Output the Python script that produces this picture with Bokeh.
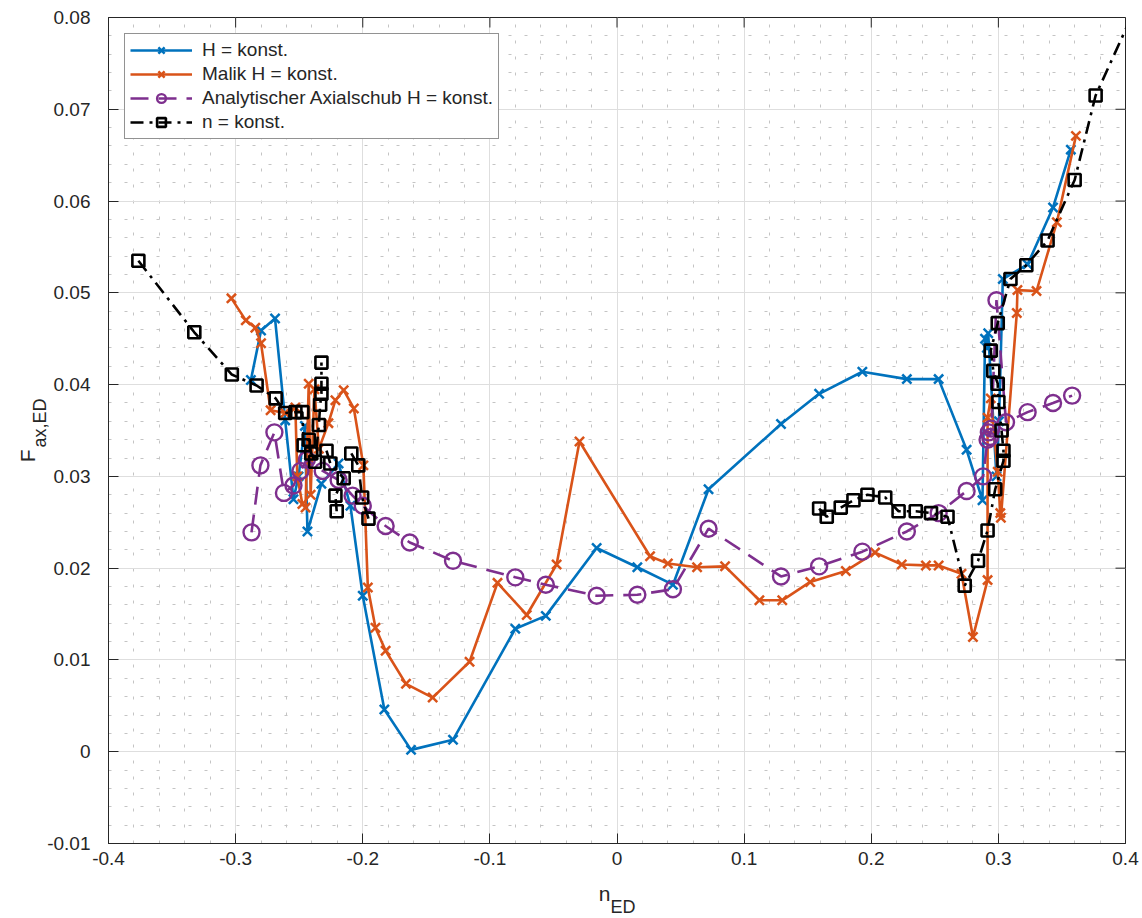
import math
import numpy as np
from bokeh.plotting import figure
from bokeh.models import Range1d, FixedTicker, Label, Legend, LegendItem
from bokeh.embed import file_html
from bokeh.resources import INLINE

nan = float("nan")

# ---------------- data ----------------
h_x = [-0.288, -0.280, -0.269, -0.261, -0.2545, -0.2505, -0.2455, -0.2435, -0.2325, -0.219,
       -0.2097, -0.200, -0.183, -0.162, -0.129, -0.080, -0.056, -0.016, 0.016, 0.044,
       0.072, 0.129, 0.159, 0.193, 0.228, 0.253, 0.275, 0.2875, 0.2895, 0.291,
       0.292, 0.2985, 0.3005, 0.3035, 0.323, 0.343, 0.357]
h_y = [0.0405, 0.0459, 0.0472, 0.0361, 0.0275, 0.0300, 0.0355, 0.0240, 0.0292, 0.0314,
       0.0268, 0.0170, 0.0046, 0.0002, 0.0013, 0.0134, 0.0148, 0.0222, 0.0201, 0.0182,
       0.0286, 0.0357, 0.0390, 0.0414, 0.0406, 0.0406, 0.0329, 0.0274, 0.0450, 0.0440,
       0.0456, 0.0300, 0.0360, 0.0515, 0.0531, 0.0593, 0.0656]

malik_x = [-0.3033, -0.292, -0.2845, -0.280, -0.2725, -0.261, -0.253, -0.2515, -0.2475, -0.245,
           -0.2425, -0.241, -0.238, -0.2345, -0.227, -0.2215, -0.215, -0.207, -0.1995, -0.196,
           -0.190, -0.182, -0.166, -0.145, -0.116, -0.094, -0.071, -0.0475, -0.0295, 0.026,
           0.040, 0.063, 0.085, 0.112, 0.130, 0.152, 0.180, 0.203, 0.224, 0.243,
           0.253, 0.271, 0.280, 0.2915, 0.2915, 0.294, 0.2995, 0.3015, 0.302, 0.3145,
           0.315, 0.330, 0.346, 0.361]
malik_y = [0.0494, 0.0470, 0.0462, 0.0445, 0.0372, 0.0369, 0.0375, 0.0300, 0.0270, 0.0266,
           0.0401, 0.0280, 0.0395, 0.0330, 0.0358, 0.0383, 0.0394, 0.0374, 0.0312, 0.0179,
           0.0135, 0.0110, 0.0074, 0.0059, 0.0098, 0.0184, 0.0149, 0.0204, 0.0338, 0.0213,
           0.0205, 0.0201, 0.0202, 0.0165, 0.0165, 0.0185, 0.0197, 0.0217, 0.0204, 0.0203,
           0.0203, 0.0194, 0.0125, 0.0187, 0.0364, 0.0385, 0.0305, 0.0260, 0.0255, 0.0478,
           0.0503, 0.0502, 0.0577, 0.0671]

ana_x = [-0.2875, -0.2805, -0.2695, -0.262, -0.2545, -0.249, -0.244, -0.2315, -0.219, -0.208,
         -0.200, -0.182, -0.163, -0.129, -0.080, -0.056, -0.016, 0.016, 0.044, 0.072,
         0.129, 0.159, 0.193, 0.228, 0.253, 0.275, 0.288, 0.2915, 0.2925, 0.2935,
         0.2945, 0.2985, 0.306, 0.323, 0.343, 0.358]
ana_y = [0.0239, 0.0312, 0.0348, 0.0282, 0.0290, 0.0306, 0.0318, 0.0306, 0.0296, 0.0279,
         0.0268, 0.0246, 0.0228, 0.0208, 0.0190, 0.0182, 0.0170, 0.0171, 0.0177, 0.0243,
         0.0191, 0.0202, 0.0218, 0.0240, 0.0260, 0.0284, 0.0300, 0.0340, 0.0348, 0.0343,
         0.0352, 0.0492, 0.0359, 0.0370, 0.0380, 0.0388]

n_x = [-0.3765, -0.3325, -0.303, -0.2835, -0.2685, -0.261, -0.253, -0.2475, -0.2465, -0.2425,
       -0.2405, -0.2375, -0.2345, -0.2335, -0.2325, -0.2325, -0.2325, nan, -0.2285, -0.2255,
       -0.215, -0.2215, -0.2205, nan, -0.209, -0.2035, -0.2005, -0.1955, nan, 0.159,
       0.165, 0.176, 0.186, 0.197, 0.211, 0.2215, 0.235, 0.247, 0.260, 0.2735,
       0.284, 0.2915, 0.2975, 0.304, 0.304, 0.3025, 0.300, 0.2995, 0.296, 0.294,
       0.2995, 0.3095, 0.322, 0.3387, 0.360, 0.3765, 0.410]
n_y = [0.0535, 0.0457, 0.0411, 0.0399, 0.0385, 0.0369, 0.0370, 0.0370, 0.0334, 0.0340,
       0.0325, 0.0316, 0.0356, 0.0378, 0.0390, 0.0401, 0.0424, nan, 0.0328, 0.0314,
       0.0298, 0.0279, 0.0262, nan, 0.0325, 0.0312, 0.0277, 0.0254, nan, 0.0265,
       0.0256, 0.0266, 0.0274, 0.0280, 0.0277, 0.0262, 0.0262, 0.0260, 0.0256, 0.0181,
       0.0208, 0.0241, 0.0286, 0.0317, 0.0328, 0.0350, 0.0381, 0.0401, 0.0415, 0.0437,
       0.0467, 0.0515, 0.0530, 0.0557, 0.0623, 0.0715, 0.0817]

x_ticks = [-0.4, -0.3, -0.2, -0.1, 0, 0.1, 0.2, 0.3, 0.4]
x_tick_labels = ["-0.4", "-0.3", "-0.2", "-0.1", "0", "0.1", "0.2", "0.3", "0.4"]
y_ticks = [-0.01, 0, 0.01, 0.02, 0.03, 0.04, 0.05, 0.06, 0.07, 0.08]
y_tick_labels = ["-0.01", "0", "0.01", "0.02", "0.03", "0.04", "0.05", "0.06", "0.07", "0.08"]

series_labels = ["H = konst.", "Malik H = konst.", "Analytischer Axialschub H = konst.", "n = konst."]

# ---------------- figure ----------------
FONT = "Liberation Sans"
AX = "#262626"
XMIN, XMAX, YMIN, YMAX = -0.4, 0.4, -0.01, 0.08
FW, FH = 1017, 826
L, T = 108, 17

p = figure(frame_width=FW, frame_height=FH, output_backend="svg", toolbar_location=None,
           x_range=Range1d(XMIN, XMAX), y_range=Range1d(YMIN, YMAX),
           min_border_left=L, min_border_right=17, min_border_top=T, min_border_bottom=75)
p.background_fill_color = "white"
p.border_fill_color = "white"
p.outline_line_color = AX
p.outline_line_width = 1

x_minor = [round(v, 4) for v in np.arange(-0.4, 0.4001, 0.02)]
y_minor = [round(v, 4) for v in np.arange(-0.01, 0.08001, 0.002)]
xt = FixedTicker(ticks=x_ticks, minor_ticks=x_minor)
yt = FixedTicker(ticks=y_ticks, minor_ticks=y_minor)

for ax, t, labs, ticks in [(p.xaxis[0], xt, x_tick_labels, x_ticks), (p.yaxis[0], yt, y_tick_labels, y_ticks)]:
    ax.ticker = t
    ax.major_label_overrides = {tv: lb for tv, lb in zip(ticks, labs)}
    ax.major_tick_in = 10
    ax.major_tick_out = 0
    ax.minor_tick_in = 0
    ax.minor_tick_out = 0
    ax.axis_line_color = AX
    ax.major_tick_line_color = AX
    ax.major_label_text_font = FONT
    ax.major_label_text_font_size = "19px"
    ax.major_label_text_color = AX
p.xaxis[0].major_label_standoff = 8
p.yaxis[0].major_label_standoff = 18

for g in (p.xgrid[0], p.ygrid[0]):
    g.grid_line_color = "#dedede"
    g.grid_line_width = 1
    g.minor_grid_line_color = "#c4c4c4"
    g.minor_grid_line_dash = "3 13"
    g.minor_grid_line_width = 1
p.xgrid[0].ticker = xt
p.ygrid[0].ticker = yt

# inward ticks on top and right edges (box), derived from the tick arrays
tick_dx = 10 * (XMAX - XMIN) / FW
tick_dy = 10 * (YMAX - YMIN) / FH
p.segment(x0=x_ticks, y0=[YMAX] * len(x_ticks), x1=x_ticks, y1=[YMAX - tick_dy] * len(x_ticks),
          line_color=AX, line_width=1)
p.segment(x0=[XMAX] * len(y_ticks), y0=y_ticks, x1=[XMAX - tick_dx] * len(y_ticks), y1=y_ticks,
          line_color=AX, line_width=1)

BLUE, ORANGE, PURPLE, BLACK = "#0072BD", "#D95319", "#7E2F8E", "#000000"
LW = 2.6

r1l = p.line(h_x, h_y, line_color=BLUE, line_width=LW)
r1m = p.scatter(h_x, h_y, marker="x", size=13, line_color=BLUE, line_width=2.5)
r2l = p.line(malik_x, malik_y, line_color=ORANGE, line_width=LW)
r2m = p.scatter(malik_x, malik_y, marker="x", size=13, line_color=ORANGE, line_width=2.5)
r3l = p.line(ana_x, ana_y, line_color=PURPLE, line_width=LW, line_dash="18 10")
r3m = p.scatter(ana_x, ana_y, marker="circle", size=16, line_color=PURPLE, line_width=2.4, fill_color=None)
r4l = p.line(n_x, n_y, line_color=BLACK, line_width=LW, line_dash="13 6 3 6")
r4m = p.scatter(n_x, n_y, marker="square", size=12, line_color=BLACK, line_width=2.6, fill_color=None)

legend = Legend(items=[LegendItem(label=series_labels[0], renderers=[r1l, r1m]),
                       LegendItem(label=series_labels[1], renderers=[r2l, r2m]),
                       LegendItem(label=series_labels[2], renderers=[r3l, r3m]),
                       LegendItem(label=series_labels[3], renderers=[r4l, r4m])],
                location="top_left", margin=16, padding=5, spacing=2,
                glyph_width=62, glyph_height=22, label_standoff=10,
                label_text_font=FONT, label_text_font_size="19px", label_text_color=AX,
                border_line_color=AX, border_line_width=1, background_fill_alpha=1.0)
p.add_layout(legend)

# axis titles with subscripts, placed in the side panels (canvas pixel coordinates)
p.add_layout(Label(x=610, y=893, x_units="canvas", y_units="canvas", text="n",
                   text_align="right", text_baseline="alphabetic",
                   text_font=FONT, text_font_size="21px", text_color=AX), "below")
p.add_layout(Label(x=610, y=906, x_units="canvas", y_units="canvas", text="ED",
                   text_align="left", text_baseline="alphabetic",
                   text_font=FONT, text_font_size="18px", text_color=AX), "below")
p.add_layout(Label(x=27, y=449, x_units="canvas", y_units="canvas", text="F",
                   text_align="right", text_baseline="alphabetic", angle=math.pi / 2,
                   text_font=FONT, text_font_size="21px", text_color=AX), "left")
p.add_layout(Label(x=39, y=447, x_units="canvas", y_units="canvas", text="ax,ED",
                   text_align="left", text_baseline="alphabetic", angle=math.pi / 2,
                   text_font=FONT, text_font_size="18px", text_color=AX), "left")

open("out.html", "w").write(file_html(p, INLINE))
